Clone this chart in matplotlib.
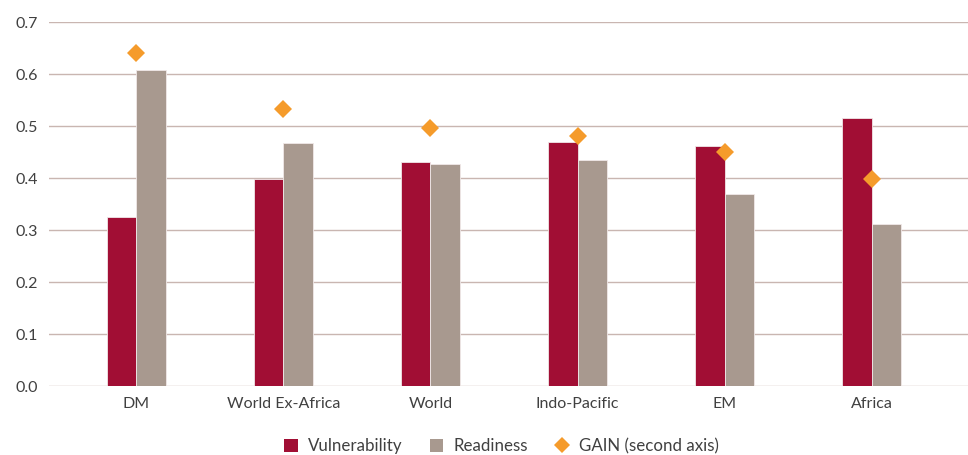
import matplotlib
matplotlib.use("Agg")
import matplotlib.pyplot as plt
import numpy as np
from matplotlib.lines import Line2D
from matplotlib.patches import Patch

categories = ["DM", "World Ex-Africa", "World", "Indo-Pacific", "EM", "Africa"]
vulnerability = [0.326, 0.399, 0.431, 0.469, 0.463, 0.515]
readiness = [0.608, 0.468, 0.428, 0.435, 0.370, 0.313]
gain = [0.640, 0.533, 0.496, 0.481, 0.450, 0.399]
yticks = [0.0, 0.1, 0.2, 0.3, 0.4, 0.5, 0.6, 0.7]

c_vul = "#A10E34"
c_rea = "#A8998F"
c_gain = "#F59B2B"
c_grid = "#C9B6B1"
c_text = "#404040"

plt.rcParams['font.family'] = ['Lato', 'DejaVu Sans']

fig = plt.figure(figsize=(9.68, 4.55), dpi=100)
ax = fig.add_axes([0.0506, 0.151, 0.9494, 0.80])
x = np.arange(len(categories))
w = 0.2
ax.bar(x - w/2, vulnerability, width=w, color=c_vul, edgecolor="#f0e8e8", linewidth=0.6, zorder=3)
ax.bar(x + w/2, readiness, width=w, color=c_rea, edgecolor="#f0e8e8", linewidth=0.6, zorder=3)

ax.set_ylim(0, 0.7)
ax.set_xlim(-0.592, 5.653)
ax.set_yticks(yticks)
ax.set_yticklabels([f"{t:.1f}" for t in yticks])
ax.set_xticks(x)
ax.set_xticklabels(categories)
ax.yaxis.grid(True, color=c_grid, linewidth=1.0, zorder=0)
ax.set_axisbelow(True)
for s in ax.spines.values():
    s.set_visible(False)
ax.tick_params(axis='both', length=0, labelsize=11.5, colors=c_text)
ax.tick_params(axis='y', pad=8)
ax.tick_params(axis='x', pad=8)

ax2 = ax.twinx()
ax2.set_ylim(0, 0.7)
ax2.plot(x, gain, linestyle='none', marker='D', markersize=9, color=c_gain,
         markeredgewidth=0, zorder=5)
ax2.set_yticks([])
for s in ax2.spines.values():
    s.set_visible(False)

handles = [Patch(facecolor=c_vul, edgecolor='none'),
           Patch(facecolor=c_rea, edgecolor='none'),
           Line2D([0], [0], linestyle='none', marker='D', markersize=8, color=c_gain, markeredgewidth=0)]
labels = ["Vulnerability", "Readiness", "GAIN (second axis)"]
leg = fig.legend(handles, labels, loc='center', bbox_to_anchor=(0.518, 0.019), ncol=3, frameon=False,
                 fontsize=12.2, handlelength=0.8, handleheight=0.8, handletextpad=0.6, columnspacing=1.6)
for t in leg.get_texts():
    t.set_color(c_text)

fig.savefig("out.png", dpi=100)
